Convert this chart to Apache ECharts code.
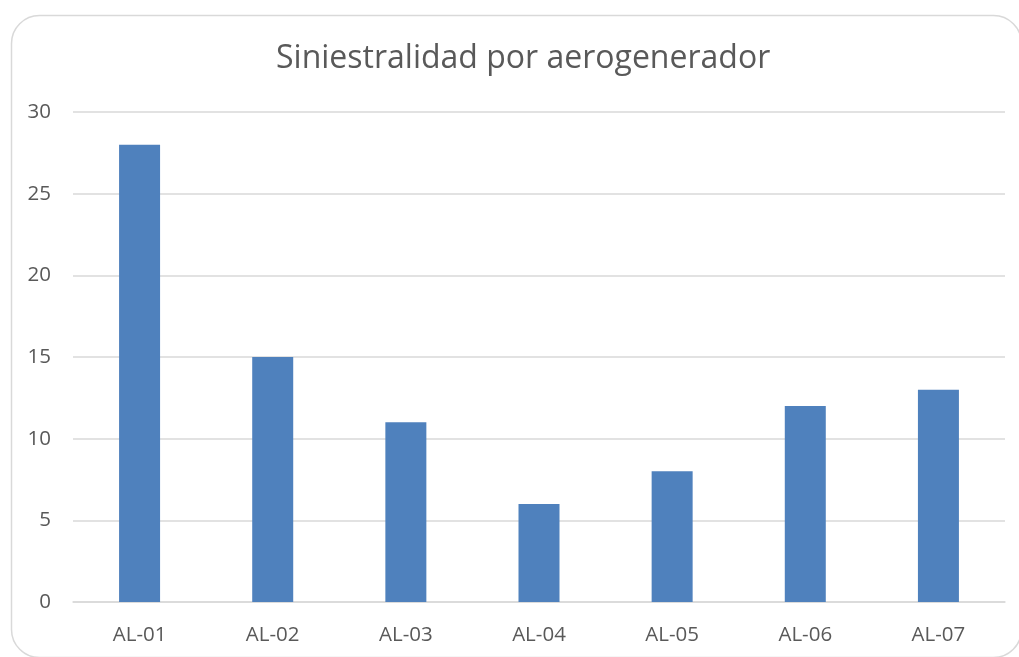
<!DOCTYPE html>
<html>
<head>
<meta charset="utf-8">
<script src="https://cdn.jsdelivr.net/npm/echarts@6/dist/echarts.min.js"></script>
<style>html,body{margin:0;padding:0;background:#fff;}#c{width:1019px;height:657px;}</style>
</head>
<body>
<div id="c"></div>
<script>
const titleText = "Siniestralidad por aerogenerador";
const categories = ["AL-01","AL-02","AL-03","AL-04","AL-05","AL-06","AL-07"];
const values = [28, 15, 11, 6, 8, 12, 13];
const yTicks = [0, 5, 10, 15, 20, 25, 30];

const chart = echarts.init(document.getElementById('c'), null, {renderer:'canvas'});
chart.setOption({
  animation: false,
  backgroundColor: '#fff',
  graphic: [{
    type: 'rect', left: 9, top: 13,
    shape: {width: 1010, height: 642, r: 28},
    style: {fill: 'none', stroke: '#d9d9d9', lineWidth: 1.5},
    silent: true, z: -1
  }],
  title: {
    text: titleText, left: 271, top: 38,
    textStyle: {fontFamily: 'Open Sans', fontSize: 32, fontWeight: 'normal', color: '#595959'}
  },
  grid: {left: 73, right: 14, top: 112, bottom: 55, containLabel: false},
  xAxis: {
    type: 'category', data: categories,
    axisLine: {lineStyle: {color: '#d9d9d9', width: 1.5}},
    axisTick: {show: false},
    axisLabel: {fontFamily: 'Open Sans', fontSize: 20.5, color: '#595959', margin: 23}
  },
  yAxis: {
    type: 'value', min: yTicks[0], max: yTicks[yTicks.length-1], interval: 5,
    axisLine: {show: false}, axisTick: {show: false},
    axisLabel: {fontFamily: 'Open Sans', fontSize: 20.5, color: '#595959', margin: 22},
    splitLine: {lineStyle: {color: '#d9d9d9', width: 1.5}}
  },
  series: [{
    type: 'bar', data: values, barWidth: 41,
    itemStyle: {color: '#4f81bd'}
  }]
});
</script>
</body>
</html>
